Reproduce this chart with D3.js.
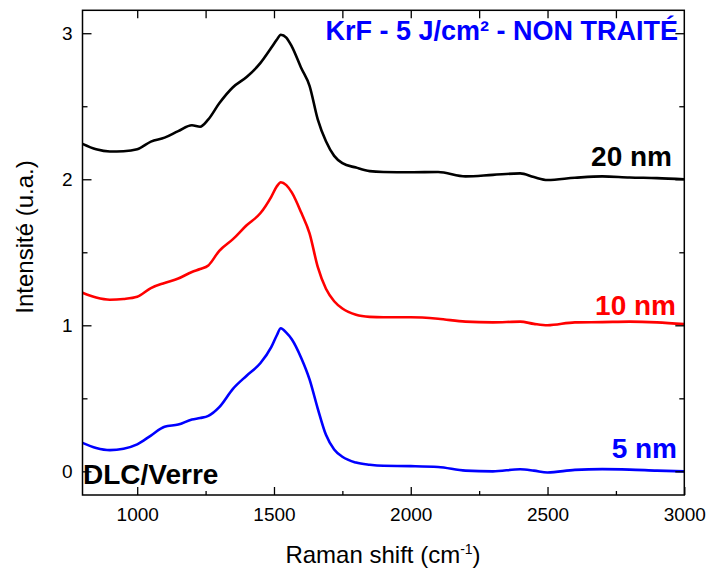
<!DOCTYPE html>
<html>
<head>
<meta charset="utf-8">
<script src="https://cdn.jsdelivr.net/npm/d3@7"></script>
<style>
  html, body { margin: 0; padding: 0; background: #fff; }
  svg { display: block; }
  text { font-family: "Liberation Sans", Arial, sans-serif; }
</style>
</head>
<body>
<svg id="chart" width="708" height="570"></svg>
<script>
// ---- data ----
const ramanShift = [800, 850, 900, 950, 1000, 1050, 1100, 1150, 1200, 1230, 1260, 1300, 1350, 1400, 1450, 1490, 1510, 1525, 1545, 1565, 1600, 1630, 1660, 1690, 1720, 1750, 1800, 1850, 1900, 2000, 2100, 2200, 2300, 2400, 2450, 2500, 2600, 2700, 2800, 2900, 3000];
const int5nm  = [0.195, 0.16, 0.145, 0.155, 0.185, 0.245, 0.305, 0.32, 0.355, 0.365, 0.38, 0.44, 0.565, 0.655, 0.74, 0.85, 0.93, 0.98, 0.95, 0.905, 0.775, 0.63, 0.43, 0.25, 0.15, 0.10, 0.06, 0.045, 0.038, 0.036, 0.03, 0.005, 0.0, 0.014, 0.005, -0.008, 0.01, 0.015, 0.012, 0.005, 0.0];
const int10nm = [1.223, 1.19, 1.175, 1.18, 1.195, 1.255, 1.29, 1.32, 1.365, 1.385, 1.41, 1.51, 1.59, 1.685, 1.767, 1.88, 1.95, 1.98, 1.96, 1.91, 1.77, 1.63, 1.40, 1.25, 1.165, 1.115, 1.072, 1.058, 1.055, 1.055, 1.045, 1.025, 1.02, 1.025, 1.01, 1.0, 1.02, 1.022, 1.025, 1.02, 1.008];
const int20nm = [2.242, 2.205, 2.19, 2.192, 2.205, 2.258, 2.285, 2.33, 2.37, 2.36, 2.41, 2.52, 2.63, 2.70, 2.795, 2.9, 2.955, 2.99, 2.97, 2.91, 2.76, 2.64, 2.41, 2.26, 2.16, 2.11, 2.08, 2.056, 2.05, 2.048, 2.05, 2.02, 2.03, 2.04, 2.015, 1.995, 2.01, 2.02, 2.012, 2.008, 2.0];
const seriesNames = ["5 nm", "10 nm", "20 nm"];
const seriesColors = ["#0000ff", "#ff0000", "#000000"];
const xMajorTicks = [1000, 1500, 2000, 2500, 3000];
const xMinorTicks = [1250, 1750, 2250, 2750];
const xTopTicks = [1000, 1250, 1500, 1750, 2000, 2250, 2500, 2750];
const yMajorTicks = [0, 1, 2, 3];
const yMinorTicks = [0.5, 1.5, 2.5];
const titleText = "KrF - 5 J/cm² - NON TRAITÉ";
const substrateText = "DLC/Verre";

// ---- chart ----
const svg = d3.select("#chart");
const pLeft = 82.5, pRight = 684.3, pTop = 10.3, pBottom = 495;
const x = d3.scaleLinear().domain([800, 3000]).range([pLeft, pRight]);
const y = d3.scaleLinear().domain([-0.162, 3.157]).range([pBottom, pTop]);

const series = [int5nm, int10nm, int20nm];
const line = d3.line().x((d, i) => x(ramanShift[i])).y(d => y(d)).curve(d3.curveMonotoneX);

series.forEach((s, k) => {
  svg.append("path").datum(s)
    .attr("d", line)
    .attr("fill", "none")
    .attr("stroke", seriesColors[k])
    .attr("stroke-width", 2.6)
    .attr("stroke-linejoin", "round");
});

function styleAxis(g) {
  g.select(".domain").remove();
  g.selectAll(".tick line").attr("stroke", "#000").attr("stroke-width", 1.3);
  g.selectAll(".tick text").attr("fill", "#000").style("font-size", "19px")
    .style("font-family", '"Liberation Sans", Arial, sans-serif');
}

svg.append("g").attr("transform", `translate(0,${pBottom})`)
  .call(d3.axisBottom(x).tickValues(xMajorTicks).tickSize(-8).tickPadding(13).tickFormat(d3.format("d")))
  .call(styleAxis);
svg.append("g").attr("transform", `translate(0,${pBottom})`)
  .call(d3.axisBottom(x).tickValues(xMinorTicks).tickSize(-4).tickFormat(""))
  .call(styleAxis);
svg.append("g").attr("transform", `translate(0,${pTop})`)
  .call(d3.axisTop(x).tickValues(xTopTicks).tickSize(-8).tickFormat(""))
  .call(styleAxis);
svg.append("g").attr("transform", `translate(${pLeft},0)`)
  .call(d3.axisLeft(y).tickValues(yMajorTicks).tickSize(-9).tickPadding(10).tickFormat(d3.format("d")))
  .call(styleAxis);
svg.append("g").attr("transform", `translate(${pLeft},0)`)
  .call(d3.axisLeft(y).tickValues(yMinorTicks).tickSize(-5).tickFormat(""))
  .call(styleAxis);
svg.append("g").attr("transform", `translate(${pRight},0)`)
  .call(d3.axisRight(y).tickValues(yMajorTicks).tickSize(-9).tickFormat(""))
  .call(styleAxis);
svg.append("g").attr("transform", `translate(${pRight},0)`)
  .call(d3.axisRight(y).tickValues(yMinorTicks).tickSize(-5).tickFormat(""))
  .call(styleAxis);

svg.append("rect")
  .attr("x", pLeft).attr("y", pTop).attr("width", pRight - pLeft).attr("height", pBottom - pTop)
  .attr("fill", "none").attr("stroke", "#000").attr("stroke-width", 1.5);

// axis titles
const xl = svg.append("text").attr("x", 383).attr("y", 563).attr("text-anchor", "middle")
  .style("font-size", "24px").attr("fill", "#000");
xl.append("tspan").text("Raman shift (cm");
xl.append("tspan").attr("dy", -9).style("font-size", "14px").text("-1");
xl.append("tspan").attr("dy", 9).text(")");

svg.append("text").attr("transform", "translate(33,237) rotate(-90)")
  .attr("text-anchor", "middle").style("font-size", "24px").attr("fill", "#000")
  .text("Intensité (u.a.)");

// annotations
svg.append("text").attr("x", 678).attr("y", 40).attr("text-anchor", "end")
  .style("font-size", "27px").style("font-weight", "bold").attr("fill", "#0000ff")
  .text(titleText);

const labelPos = [[677, 458], [676, 315], [672, 166]];
seriesNames.forEach((n, k) => {
  svg.append("text").attr("x", labelPos[k][0]).attr("y", labelPos[k][1]).attr("text-anchor", "end")
    .style("font-size", "28px").style("font-weight", "bold").attr("fill", seriesColors[k])
    .text(n);
});
svg.append("text").attr("x", 83).attr("y", 484)
  .style("font-size", "28px").style("font-weight", "bold").attr("fill", "#000")
  .text(substrateText);
</script>
</body>
</html>
